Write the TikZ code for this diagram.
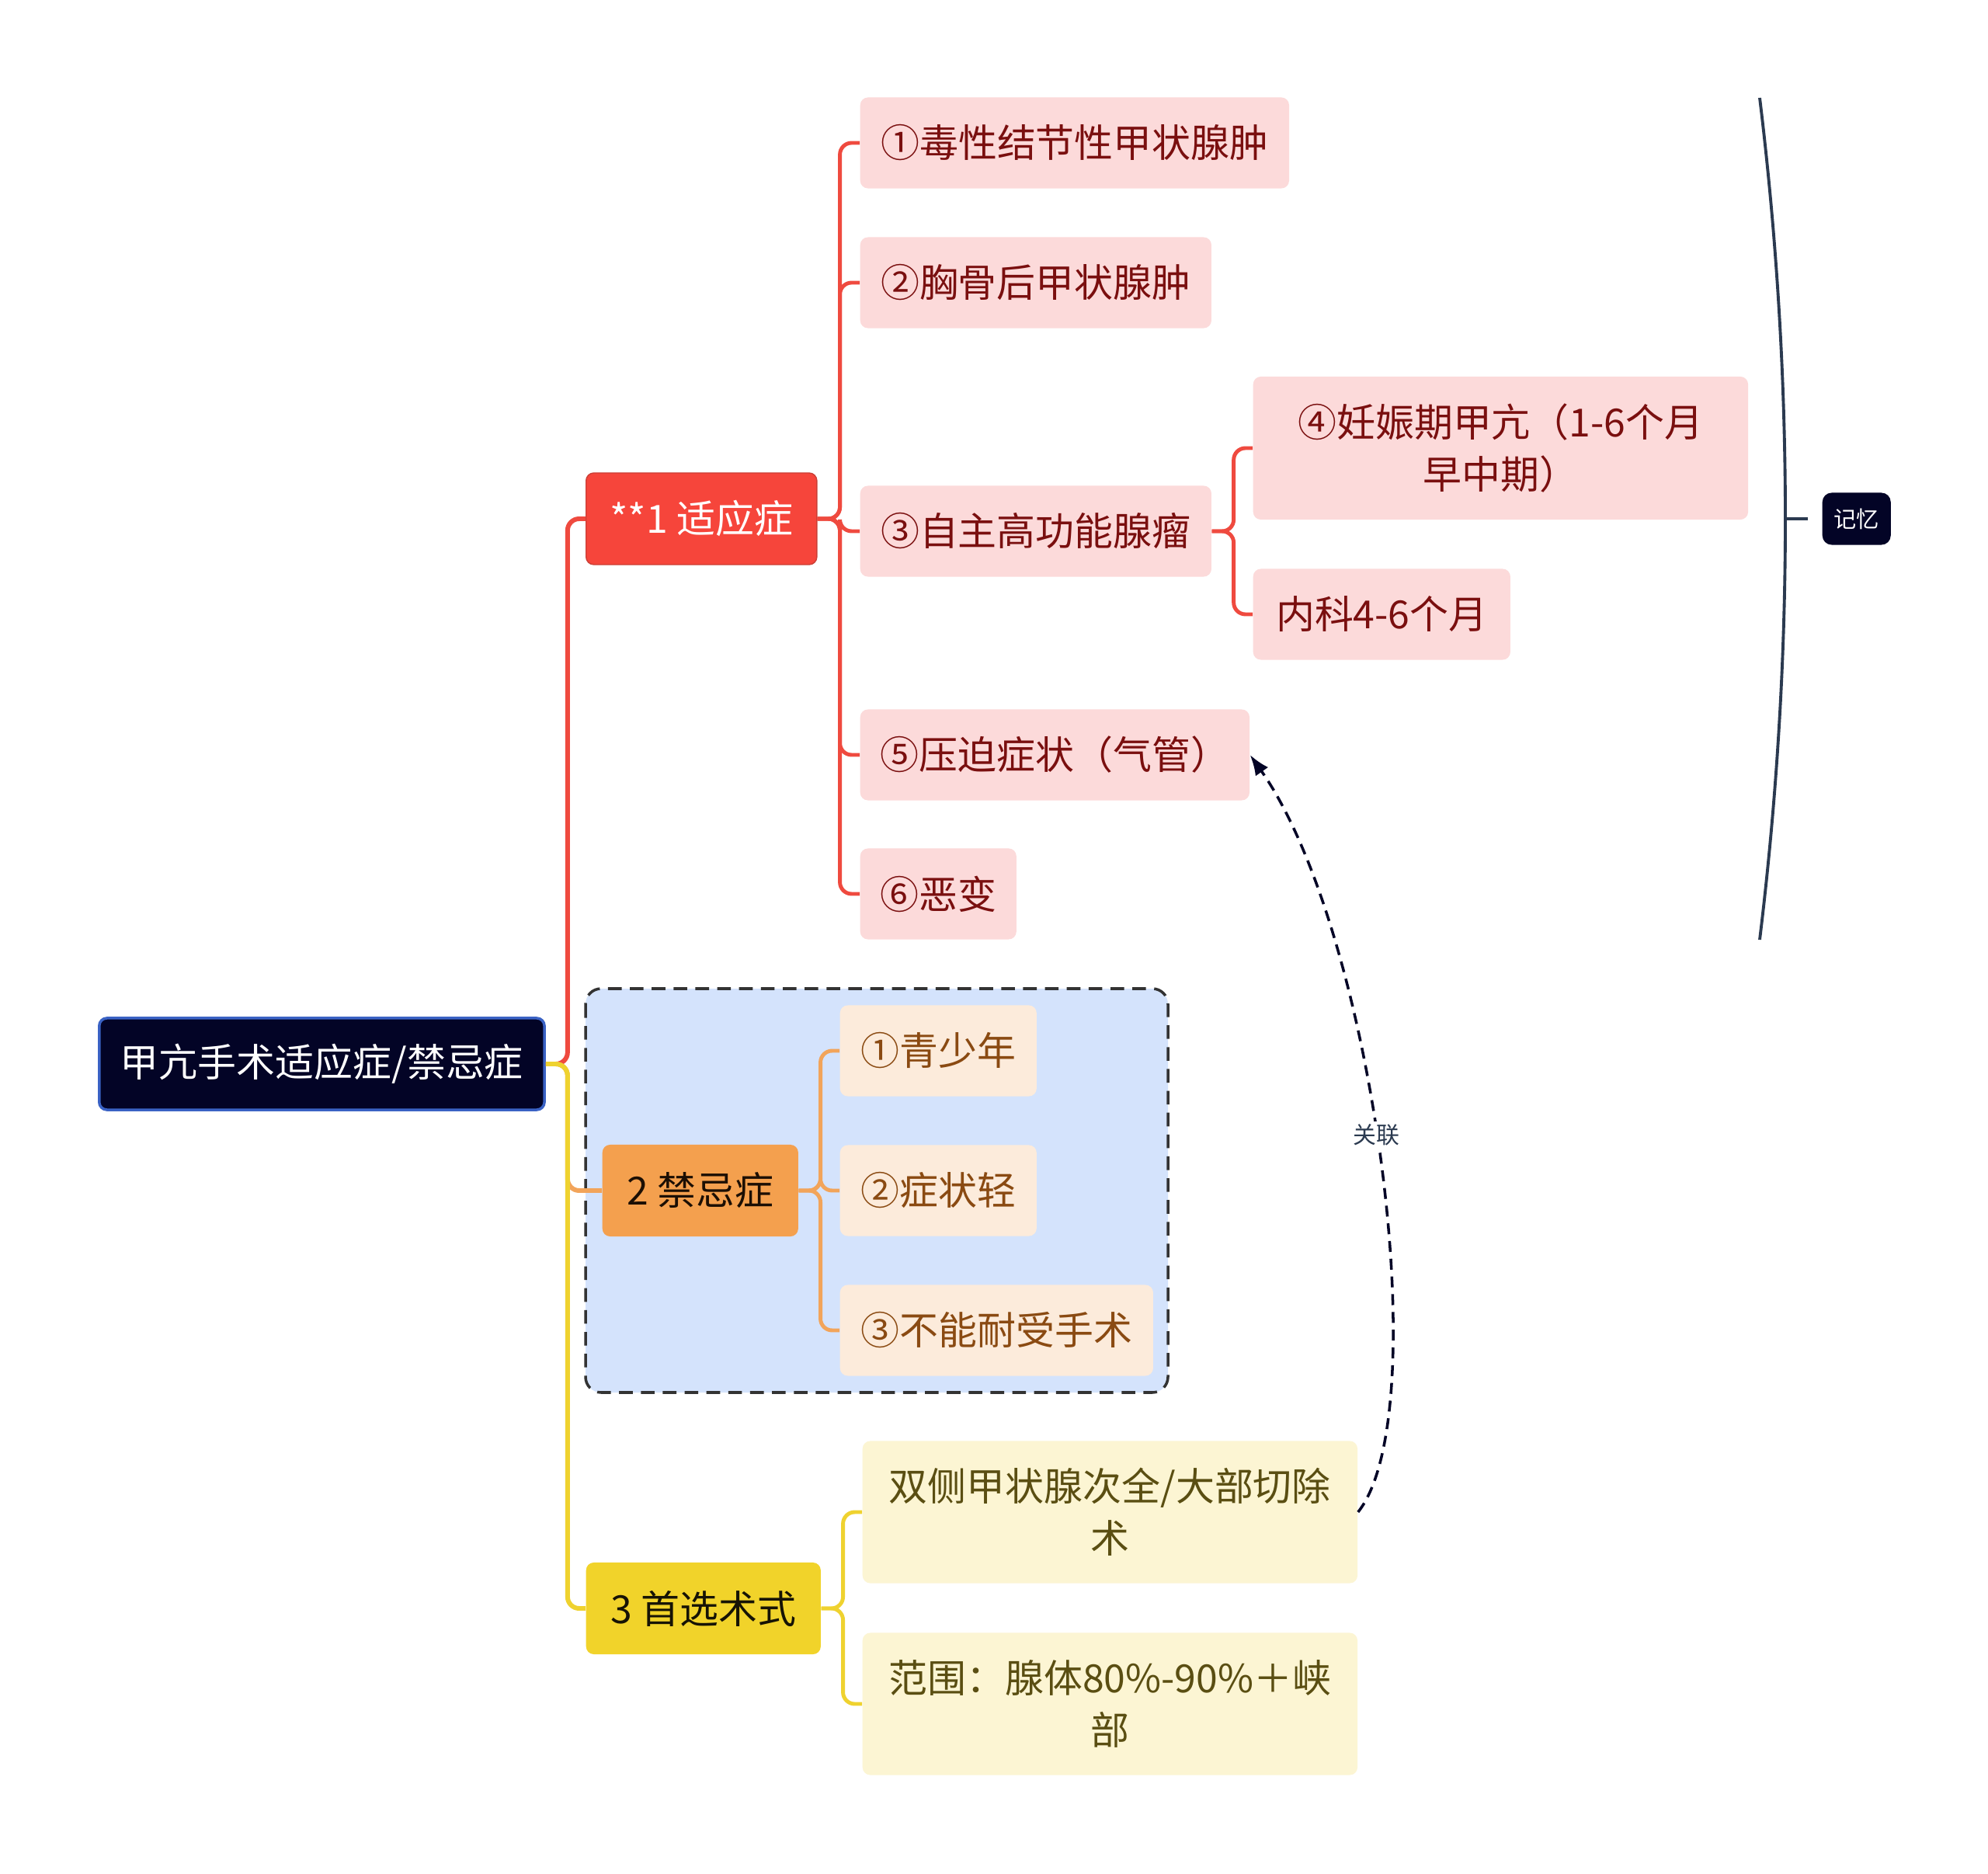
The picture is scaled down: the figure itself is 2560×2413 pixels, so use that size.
\documentclass[tikz,border=0pt]{standalone}
\usepackage{fontspec}
\setmainfont{Noto Sans CJK SC}
\usetikzlibrary{arrows.meta}
\definecolor{rootbg}{HTML}{030426}
\definecolor{rootline}{HTML}{3A62C4}
\definecolor{redline}{HTML}{EF4A3F}
\definecolor{redbg}{HTML}{F6453B}
\definecolor{redleaf}{HTML}{FCDADA}
\definecolor{redtext}{HTML}{7A0F0F}
\definecolor{orangeline}{HTML}{F2A45A}
\definecolor{orangebg}{HTML}{F4A04E}
\definecolor{orangeleaf}{HTML}{FCEBDB}
\definecolor{orangetext}{HTML}{8A4A12}
\definecolor{yellowline}{HTML}{EFD22F}
\definecolor{yellowbg}{HTML}{F1D32A}
\definecolor{yellowleaf}{HTML}{FCF5D3}
\definecolor{yellowtext}{HTML}{5A4E12}
\definecolor{boxbg}{HTML}{D4E3FC}
\definecolor{memoline}{HTML}{2B3A50}

\begin{document}
\begin{tikzpicture}[>=Latex,x=0.01cm,y=-0.01cm,
  every node/.style={font=\fontsize{14.2pt}{19pt}\selectfont,inner sep=0pt,anchor=west,align=center,rounded corners=0.1cm},
  topicbox/.style={fill=#1,minimum height=1.18cm},
  leafbox/.style={fill=#1,minimum height=1.17cm},
  branch/.style={#1,line width=1.7pt,rounded corners=0.15cm},
  twig/.style={#1,line width=1.4pt,rounded corners=0.15cm}]
  \useasboundingbox (0,0) rectangle (2560,2413);
  \fill[white] (0,0) rectangle (2560,2413);
  % boundary round the contraindications
  \draw[fill=boxbg,draw=black!80,line width=1pt,dash pattern=on 5pt off 3pt,rounded corners=0.2cm] (754,1273) rectangle (1504,1793);
  % Root and main topics
  \node[fill=rootbg,draw=rootline,line width=1pt,text=white,minimum width=5.73cm,minimum height=1.18cm] (root) at (126,1370) {甲亢手术适应症/禁忌症};
  \node[topicbox=redbg,draw=redline!85!black,line width=0.4pt,text=white,minimum width=2.97cm] (indic) at (754,668) {**1 适应症};
  \node[topicbox=orangebg,text=black!80!orangetext,minimum width=2.52cm] (contra) at (775,1533) {2 禁忌症};
  \node[topicbox=yellowbg,text=black!75!yellowtext,minimum width=3.02cm] (surg) at (754,2071) {3 首选术式};
  % Indications
  \node[leafbox=redleaf,text=redtext,minimum width=5.52cm] (ind1) at (1107,184) {①毒性结节性甲状腺肿};
  \node[leafbox=redleaf,text=redtext,minimum width=4.52cm] (ind2) at (1107,364) {②胸骨后甲状腺肿};
  \node[leafbox=redleaf,text=redtext,minimum width=4.52cm] (ind3) at (1107,684) {③自主高功能腺瘤};
  \node[leafbox=redleaf,text=redtext,minimum width=5.01cm] (ind5) at (1107,972) {⑤压迫症状（气管）};
  \node[leafbox=redleaf,text=redtext,minimum width=2.01cm] (ind6) at (1107,1151) {⑥恶变};
  \node[leafbox=redleaf,text=redtext,minimum width=6.37cm,minimum height=1.84cm] (preg) at (1613,577) {④妊娠期甲亢（1-6个月\\早中期）};
  \node[leafbox=redleaf,text=redtext,minimum width=3.31cm] (medic) at (1613,791) {内科4-6个月};
  % Contraindications
  \node[leafbox=orangeleaf,text=orangetext,minimum width=2.53cm] (con1) at (1081,1353) {①青少年};
  \node[leafbox=orangeleaf,text=orangetext,minimum width=2.53cm] (con2) at (1081,1533) {②症状轻};
  \node[leafbox=orangeleaf,text=orangetext,minimum width=4.03cm] (con3) at (1081,1713) {③不能耐受手术};
  % Preferred surgery
  \node[leafbox=yellowleaf,text=yellowtext,minimum width=6.37cm,minimum height=1.83cm] (bilat) at (1110,1947) {双侧甲状腺次全/大部切除\\术};
  \node[leafbox=yellowleaf,text=yellowtext,minimum width=6.37cm,minimum height=1.83cm] (range) at (1110,2194) {范围：腺体80\%-90\%＋峡\\部};
  % Connectors
  \draw[branch=redline] (root.east) -- ++(28,0) |- (indic.west);
  \draw[branch=orangeline] (root.east) -- ++(28,0) |- (contra.west);
  \draw[branch=yellowline] (root.east) -- ++(28,0) |- (surg.west);
  \foreach \n in {ind1,ind2,ind3,ind5,ind6}
    \draw[twig=redline] (indic.east) -- ++(29,0) |- (\n.west);
  \foreach \n in {preg,medic}
    \draw[twig=redline] (ind3.east) -- ++(28,0) |- (\n.west);
  \foreach \n in {con1,con2,con3}
    \draw[twig=orangeline] (contra.east) -- ++(28,0) |- (\n.west);
  \foreach \n in {bilat,range}
    \draw[twig=yellowline] (surg.east) -- ++(28,0) |- (\n.west);
  % Summary brace with memo
  \coordinate (bracemid) at (2299,668);
  \draw[memoline,line width=1.1pt] (2266,126) .. controls (2310,487) and (2310,849) .. (2266,1210);
  \node[fill=rootbg,text=white,font=\fontsize{8.3pt}{10pt}\selectfont,rounded corners=0.12cm,minimum width=0.88cm,minimum height=0.67cm] (memo) at (2346,668) {记忆};
  \draw[memoline,line width=1.3pt] (bracemid) -- ++(29,0);
  % Relation
  \draw[->,rootbg,line width=1pt,dash pattern=on 4pt off 2.5pt] (bilat.east) .. controls (1850,1820) and (1770,1200) .. (ind5.east)
    node[pos=0.53,anchor=center,fill=white,rounded corners=0pt,inner sep=1pt,text=memoline,font=\fontsize{8.5pt}{10pt}\selectfont] {关联};
\end{tikzpicture}
\end{document}
